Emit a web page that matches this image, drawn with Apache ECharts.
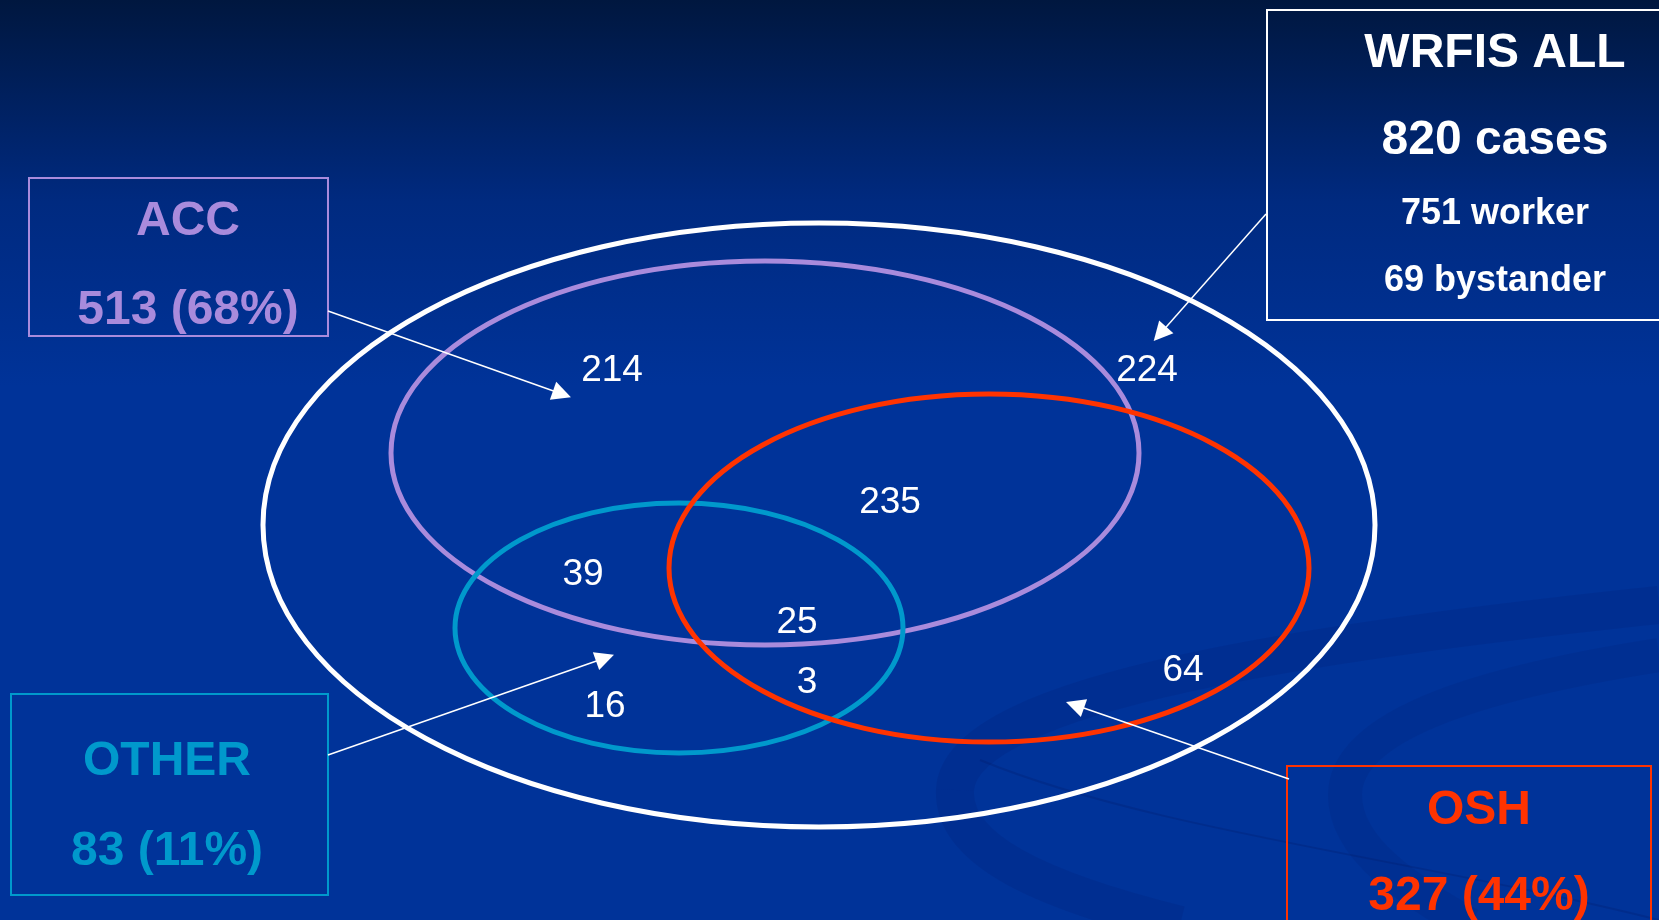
<!DOCTYPE html>
<html>
<head>
<meta charset="utf-8">
<title>WRFIS cases</title>
<script src="https://cdn.jsdelivr.net/npm/echarts@6/dist/echarts.min.js"></script>
<style>
html, body {
	margin: 0;
	height: 100%;
	width: 100%;
	overflow: hidden;
}
#chart {
	width: 1659px;
	height: 920px;
}
</style>
</head>
<body>
<div id="chart"></div>
<script type="text/javascript">

    // counts inside each region of the diagram
    var regionCounts = [214, 224, 235, 39, 25, 3, 16, 64];

    // the three sets
    var setNames = ['ACC', 'OSH', 'OTHER'];
    var setCounts = [513, 327, 83];
    var setPercents = [68, 44, 11];

    // the whole
    var totalLabel = 'WRFIS ALL';
    var totalCases = 820;
    var workerCases = 751;
    var bystanderCases = 69;

    // layout (pixel space of the slide, y downwards)
    var regionPos = [[612, 371], [1147, 371], [890, 503], [583, 575],
                     [797, 623], [807, 683], [605, 707], [1183, 671]];
    var ellipseLayout = {
        ALL:   {c: [819, 525], r: [556, 302], color: '#ffffff'},
        ACC:   {c: [765, 453], r: [374, 192], color: '#a98bdc'},
        OTHER: {c: [679, 628], r: [224, 125], color: '#0099cc'},
        OSH:   {c: [989, 568], r: [320, 174], color: '#ff3300'}
    };
    var boxLayout = {
        ALL:   {x: 1267, y: 10,  w: 460, h: 310, color: '#ffffff', tx: 1495, ty: [54, 141, 214, 281], fs: [48, 48, 36, 36]},
        ACC:   {x: 29,   y: 178, w: 299, h: 158, color: '#a98bdc', tx: 188, ty: [222, 311], fs: [48, 48]},
        OTHER: {x: 11,   y: 694, w: 317, h: 201, color: '#0099cc', tx: 167, ty: [762, 852], fs: [48, 48]},
        OSH:   {x: 1287, y: 766, w: 364, h: 200, color: '#ff3300', tx: 1479, ty: [811, 897], fs: [48, 48]}
    };
    var arrows = [
        {from: [328, 311],  to: [562, 394]},
        {from: [1266, 214], to: [1160, 334]},
        {from: [328, 755],  to: [605, 658]},
        {from: [1289, 779], to: [1075, 705]}
    ];

    var chart = echarts.init(document.getElementById('chart'));

    // ellipse as four cubic curves
    function ellipsePath(cx, cy, rx, ry) {
        var k = 0.5522847498;
        var ox = rx * k, oy = ry * k;
        return 'M' + (cx - rx) + ',' + cy +
            ' C' + (cx - rx) + ',' + (cy - oy) + ' ' + (cx - ox) + ',' + (cy - ry) + ' ' + cx + ',' + (cy - ry) +
            ' C' + (cx + ox) + ',' + (cy - ry) + ' ' + (cx + rx) + ',' + (cy - oy) + ' ' + (cx + rx) + ',' + cy +
            ' C' + (cx + rx) + ',' + (cy + oy) + ' ' + (cx + ox) + ',' + (cy + ry) + ' ' + cx + ',' + (cy + ry) +
            ' C' + (cx - ox) + ',' + (cy + ry) + ' ' + (cx - rx) + ',' + (cy + oy) + ' ' + (cx - rx) + ',' + cy + ' Z';
    }

    var ellipseKeys = ['ALL', 'ACC', 'OTHER', 'OSH'];
    var ellipseData = ellipseKeys.map(function (k) {
        var e = ellipseLayout[k];
        return {value: [e.c[0], e.c[1], e.r[0], e.r[1]], itemStyle: {color: e.color}};
    });

    // box texts built from the arrays
    var boxKeys = ['ALL', 'ACC', 'OTHER', 'OSH'];
    var boxTexts = {
        ALL: [totalLabel, totalCases + ' cases', workerCases + ' worker', bystanderCases + ' bystander'],
        ACC: [setNames[0], setCounts[0] + ' (' + setPercents[0] + '%)'],
        OSH: [setNames[1], setCounts[1] + ' (' + setPercents[1] + '%)'],
        OTHER: [setNames[2], setCounts[2] + ' (' + setPercents[2] + '%)']
    };
    var boxData = boxKeys.map(function (k, i) {
        var b = boxLayout[k];
        return {value: [b.x, b.y, b.w, b.h, i]};
    });

    // faint swooshes of the slide background
    function swoosh(p, color, w) {
        return {type: 'bezierCurve', z: 0, silent: true,
                shape: {x1: p[0], y1: p[1], cpx1: p[2], cpy1: p[3], cpx2: p[4], cpy2: p[5], x2: p[6], y2: p[7]},
                style: {fill: 'none', stroke: color, lineWidth: w}};
    }

    var option = {
        backgroundColor: {
            type: 'linear', x: 0, y: 0, x2: 0, y2: 1,
            colorStops: [
                {offset: 0, color: '#00173f'},
                {offset: 0.22, color: '#002a80'},
                {offset: 0.42, color: '#003399'},
                {offset: 1, color: '#003399'}
            ]
        },
        animation: false,
        grid: {left: 0, right: 0, top: 0, bottom: 0},
        xAxis: {type: 'value', min: 0, max: 1659, show: false},
        yAxis: {type: 'value', min: 0, max: 920, inverse: true, show: false},
        graphic: [
            swoosh([1659, 605, 1330, 640, 960, 690, 955, 790], 'rgba(0,28,110,0.18)', 38),
            swoosh([955, 790, 952, 850, 1040, 890, 1180, 925], 'rgba(0,28,110,0.18)', 38),
            swoosh([1659, 655, 1500, 680, 1345, 720, 1345, 795], 'rgba(0,28,110,0.16)', 34),
            swoosh([1345, 795, 1345, 850, 1410, 890, 1470, 925], 'rgba(0,28,110,0.16)', 34),
            swoosh([980, 760, 1150, 830, 1420, 860, 1659, 920], 'rgba(0,20,90,0.2)', 2)
        ],
        series: [{
            type: 'custom',
            z: 3,
            silent: true,
            data: ellipseData,
            renderItem: function (params, api) {
                var c = api.coord([api.value(0), api.value(1)]);
                var s = api.size([api.value(2), api.value(3)]);
                return {
                    type: 'path',
                    shape: {pathData: ellipsePath(c[0], c[1], s[0], s[1])},
                    style: {fill: 'none', stroke: api.visual('color'), lineWidth: 5}
                };
            }
        }, {
            type: 'custom',
            z: 4,
            silent: true,
            data: boxData,
            renderItem: function (params, api) {
                var k = boxKeys[api.value(4)];
                var b = boxLayout[k];
                var p = api.coord([api.value(0), api.value(1)]);
                var s = api.size([api.value(2), api.value(3)]);
                var children = [{
                    type: 'rect',
                    shape: {x: p[0], y: p[1], width: s[0], height: s[1]},
                    style: {fill: 'none', stroke: b.color, lineWidth: 2}
                }];
                boxTexts[k].forEach(function (t, j) {
                    var tp = api.coord([b.tx, b.ty[j]]);
                    children.push({
                        type: 'text',
                        x: tp[0], y: tp[1],
                        style: {
                            text: t,
                            fill: b.color,
                            font: 'bold ' + b.fs[j] + 'px "Liberation Sans", Arial, sans-serif',
                            align: 'center',
                            verticalAlign: 'middle'
                        }
                    });
                });
                return {type: 'group', children: children};
            }
        }, {
            type: 'lines',
            coordinateSystem: 'cartesian2d',
            z: 5,
            silent: true,
            symbol: ['none', 'triangle'],
            symbolSize: [15, 19],
            lineStyle: {color: '#ffffff', width: 1.5, opacity: 1},
            data: arrows.map(function (a) { return {coords: [a.from, a.to]}; })
        }, {
            type: 'scatter',
            z: 6,
            silent: true,
            symbolSize: 0,
            itemStyle: {opacity: 1},
            data: regionCounts.map(function (v, i) {
                return {value: [regionPos[i][0], regionPos[i][1], v]};
            }),
            label: {
                show: true,
                position: 'inside',
                formatter: function (p) { return p.value[2]; },
                color: '#ffffff',
                opacity: 1,
                fontSize: 37,
                fontFamily: '"Liberation Sans", Arial, sans-serif'
            }
        }]
    };

    chart.setOption(option);
</script>
</body>
</html>
